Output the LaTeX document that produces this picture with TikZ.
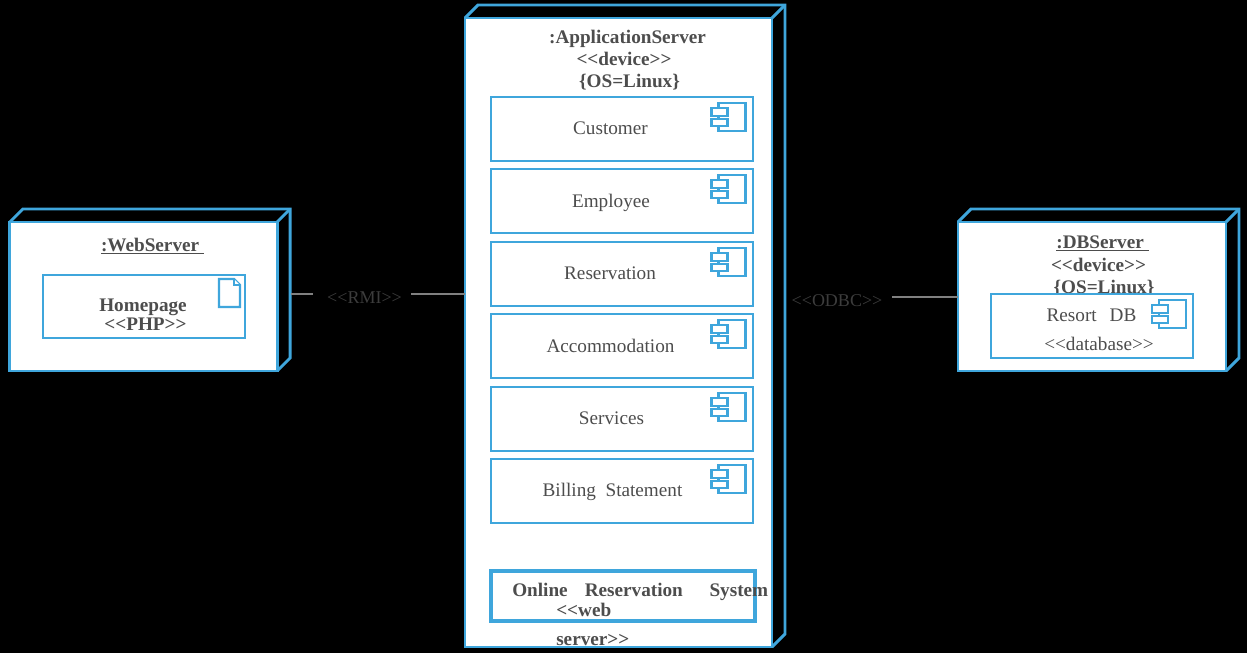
\documentclass[tikz,border=0pt]{standalone}
\usepackage{fontspec}
\setmainfont{Liberation Serif}
\usepackage{xcolor}
\usetikzlibrary{positioning, calc}
\definecolor{edgeblue}{HTML}{3FA6DC}
\definecolor{textgray}{HTML}{4D4D4D}
\definecolor{linkgray}{HTML}{808080}
\definecolor{linktext}{HTML}{3C3C3C}
\tikzset{
    device/.style={rectangle, draw=edgeblue, fill=white, line width=2.2pt, outer sep=0pt, inner sep=0pt},
    devicedepth/.style={draw=edgeblue, line width=2.2pt},
    compbox/.style={rectangle, draw=edgeblue, fill=white, line width=1.5pt, outer sep=0pt, inner sep=0pt, minimum width=196.5pt, minimum height=48pt},
    compicon/.style={draw=edgeblue, fill=white, line width=1.6pt},
    plaintext/.style={font=\fontsize{14.4}{16}\selectfont, text=textgray, inner sep=0pt, text height=9.5pt, text depth=0pt},
    boldtext/.style={font=\fontsize{14.4}{16}\selectfont\bfseries, text=textgray, inner sep=0pt, text height=9.5pt, text depth=0pt},
    linklabel/.style={font=\fontsize{13.5}{15}\selectfont, text=linktext, inner sep=0pt, text height=9.5pt, text depth=0pt},
    link/.style={draw=linkgray, line width=1.5pt},
}
\newcommand{\stereo}[1]{<{}<#1>{}>}
% depth faces of a node box
\newcommand{\depthfaces}[1]{
    \draw[devicedepth] (#1.north west) -- ++(13,-13) -- ($(#1.north east)+(13,-13)$) -- ($(#1.south east)+(13,-13)$) -- (#1.south east);
    \draw[devicedepth] (#1.north east) -- ++(13,-13);
}
% component symbol in the corner of a box
\newcommand{\compsymbol}[1]{
    \draw[compicon] ($(#1.north east)+(-34,6)$) rectangle ($(#1.north east)+(-7,34)$);
    \draw[compicon] ($(#1.north east)+(-41,11)$) rectangle ($(#1.north east)+(-25,19)$);
    \draw[compicon] ($(#1.north east)+(-41,22)$) rectangle ($(#1.north east)+(-25,29)$);
}

\begin{document}
\begin{tikzpicture}[x=0.75pt, y=-0.75pt]
    \useasboundingbox[fill=black] (0,0) rectangle (1247,653);

    % WEB SERVER
    \node[device, minimum width=200.5pt, minimum height=111.75pt] (web) at (143.5,296.5) {};
    \depthfaces{web}
    \node[boldtext] (webtitle) at (152.5,245) {\underline{:WebServer\ }};
    \node[compbox, line width=2.15pt, minimum width=151.5pt, minimum height=47.25pt] (homepage) at (144,306.5) {};
    \node[boldtext] (homepagetext) at (143,305) {Homepage};
    \node[boldtext] (phptext) at (145.5,324) {\stereo{PHP}};
    \draw[compicon] ($(homepage.north east)+(-26,4)$) -- ++(15,0) -- ++(6,6) -- ++(0,22) -- ++(-21,0) -- cycle;
    \draw[compicon] ($(homepage.north east)+(-11,4)$) -- ++(0,6) -- ++(6,0);

    % APPLICATION SERVER
    \node[device, minimum width=230.25pt, minimum height=471.75pt] (app) at (618.5,332.5) {};
    \depthfaces{app}
    \node[boldtext] (apptitle) at (627.5,37) {:ApplicationServer};
    \node[boldtext] (appdevice) at (624,59) {\stereo{device}};
    \node[boldtext] (appos) at (629.5,81) {\{OS=Linux\}};

    % Components
    \node[compbox, label={[plaintext, xshift=-8.25pt, yshift=0.5pt]center:Customer}] (customer) at (621.5,129) {};
    \node[compbox, below=6.3pt of customer, label={[plaintext, xshift=-7.9pt]center:Employee}] (employee) {};
    \node[compbox, below=6.3pt of employee, label={[plaintext, xshift=-8.6pt, yshift=0.5pt]center:Reservation}] (reservation) {};
    \node[compbox, below=6.3pt of reservation, label={[plaintext, xshift=-8.25pt]center:Accommodation}] (accommodation) {};
    \node[compbox, below=6.3pt of accommodation, label={[plaintext, xshift=-7.5pt]center:Services}] (services) {};
    \node[compbox, below=6.3pt of services, label={[plaintext, xshift=-6.75pt, yshift=0.5pt]center:Billing\ \ Statement}] (billing) {};
    \compsymbol{customer}
    \compsymbol{employee}
    \compsymbol{reservation}
    \compsymbol{accommodation}
    \compsymbol{services}
    \compsymbol{billing}

    % Web server box
    \node[compbox, line width=2.3pt, minimum width=198pt, minimum height=37.5pt] (online) at (623,596) {};
    \node[boldtext, anchor=west] (onlinetext) at (512,590) {Online\hspace{12.75pt}Reservation\hspace{20pt}System};
    \node[boldtext, anchor=west] (webtext) at (556,610) {<{}<web};
    \node[boldtext, anchor=west] (servertext) at (556,639) {server>{}>};

    % DB SERVER
    \node[device, minimum width=201pt, minimum height=111.75pt] (db) at (1092,296.5) {};
    \depthfaces{db}
    \node[boldtext] (dbtitle) at (1102.5,242) {\underline{:DBServer\ }};
    \node[boldtext] (dbdevice) at (1098.5,265) {\stereo{device}};
    \node[boldtext] (dbos) at (1104,287) {\{OS=Linux\}};
    \node[compbox, minimum width=151.5pt, minimum height=48pt] (resort) at (1092,326) {};
    \node[plaintext] (resorttext) at (1091.5,315) {Resort\hspace{9.75pt}DB};
    \node[plaintext] (databasetext) at (1099,344) {\stereo{database}};
    \compsymbol{resort}

    % Links
    \coordinate (webport) at (291,294);
    \node[linklabel, minimum width=73.5pt] (rmi) at (362,297) {\hspace{3.75pt}\stereo{RMI}};
    \node[linklabel, minimum width=82.5pt] (odbc) at (837,300) {\stereo{ODBC}};
    \draw[link] (webport) -- (webport -| rmi.west);
    \draw[link] (webport -| rmi.east) -- (webport -| app.west);
    \draw[link] (odbc.east |- db.west) -- (db.west);
\end{tikzpicture}
\end{document}
